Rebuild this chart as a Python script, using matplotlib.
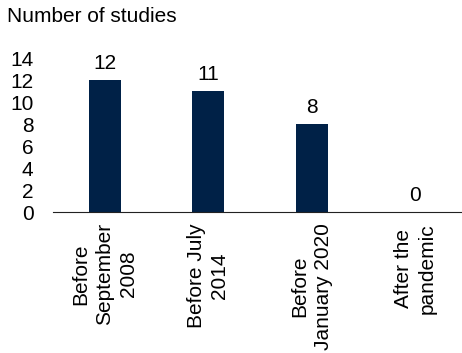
import matplotlib.pyplot as plt
import numpy as np

plt.rcParams['font.family'] = ['Liberation Sans', 'DejaVu Sans']

periods = ["Before\nSeptember\n2008", "Before July\n2014", "Before\nJanuary 2020", "After the\npandemic"]
studies = [12, 11, 8, 0]
yticks = [0, 2, 4, 6, 8, 10, 12, 14]

fig = plt.figure(figsize=(4.62, 3.53), dpi=100)
ax = fig.add_axes([53/462, 141/353, 414/462, 154/353])

x = np.arange(len(periods))
bars = ax.bar(x, studies, width=0.31, color="#002147")
for xi, v in zip(x, studies):
    ax.text(xi, v + 0.6, str(v), ha="center", va="bottom", fontsize=15)

ax.set_xlim(-0.5, len(periods) - 0.5)
ax.set_ylim(0, 14)
ax.set_yticks(yticks)
ax.set_xticks(x)
ax.set_xticklabels(periods, rotation=90, ha="center", va="top", multialignment="center",
                   fontsize=15, linespacing=1.3)
ax.tick_params(axis="both", length=0, labelsize=15)
ax.tick_params(axis="x", pad=8)
ax.tick_params(axis="y", pad=14)
for s in ["top", "right", "left"]:
    ax.spines[s].set_visible(False)
ax.spines["bottom"].set_color("#222222")

fig.text(7/462, 1 - 17/353, "Number of studies", ha="left", va="center", fontsize=15)

fig.savefig("out.png", dpi=100)
